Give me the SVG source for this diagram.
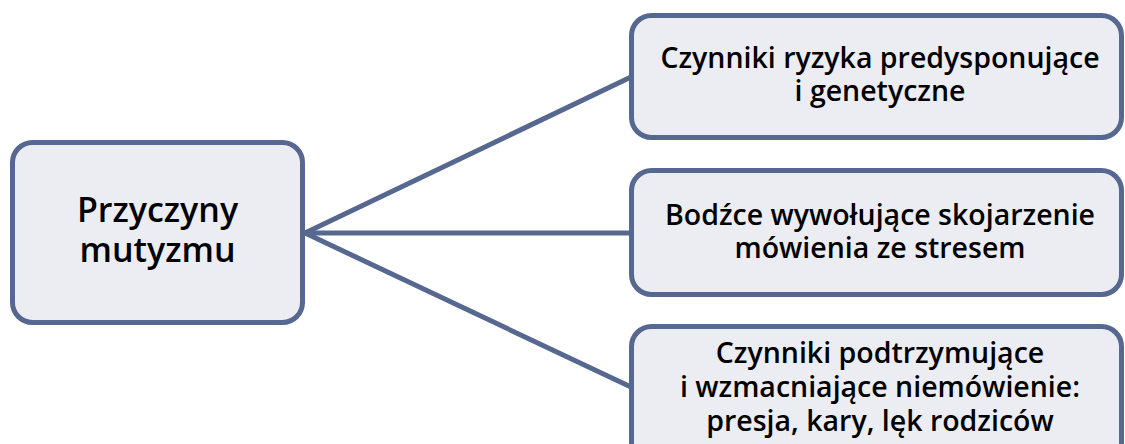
<svg xmlns="http://www.w3.org/2000/svg" width="1125" height="444" viewBox="0 0 1125 444">
<style>
.box{fill:#ecedf2;stroke:#56688f;stroke-width:5}
.lbl{font-family:"Open Sans","Noto Sans",sans-serif;font-weight:600;fill:#000;text-anchor:middle}
.big{font-size:34px}
.sm{font-size:28.5px}
.conn{stroke:#56688f;stroke-width:5;fill:none}
</style>
<rect width="1125" height="444" fill="#fff"/>
<g id="connectors">
<line class="conn" x1="305" y1="233" x2="631" y2="77"/>
<line class="conn" x1="305" y1="233" x2="631" y2="233"/>
<line class="conn" x1="305" y1="233" x2="631" y2="387"/>
</g>
<g id="root">
<rect class="box" x="12.5" y="142.5" width="290" height="180" rx="20"/>
<text class="lbl big" x="157.5" y="222">Przyczyny</text>
<text class="lbl big" x="157.5" y="262">mutyzmu</text>
</g>
<g id="n1">
<rect class="box" x="631.5" y="15.5" width="490" height="122" rx="20"/>
<text class="lbl sm" x="880" y="68">Czynniki ryzyka predysponujące</text>
<text class="lbl sm" x="880" y="101">i genetyczne</text>
</g>
<g id="n2">
<rect class="box" x="631.5" y="170.5" width="490" height="124" rx="20"/>
<text class="lbl sm" x="880" y="225">Bodźce wywołujące skojarzenie</text>
<text class="lbl sm" x="880" y="258">mówienia ze stresem</text>
</g>
<g id="n3">
<rect class="box" x="631.5" y="326.5" width="490" height="140" rx="20"/>
<text class="lbl sm" x="880" y="363">Czynniki podtrzymujące</text>
<text class="lbl sm" x="880" y="397">i wzmacniające niemówienie:</text>
<text class="lbl sm" x="880" y="431">presja, kary, lęk rodziców</text>
</g>
</svg>
